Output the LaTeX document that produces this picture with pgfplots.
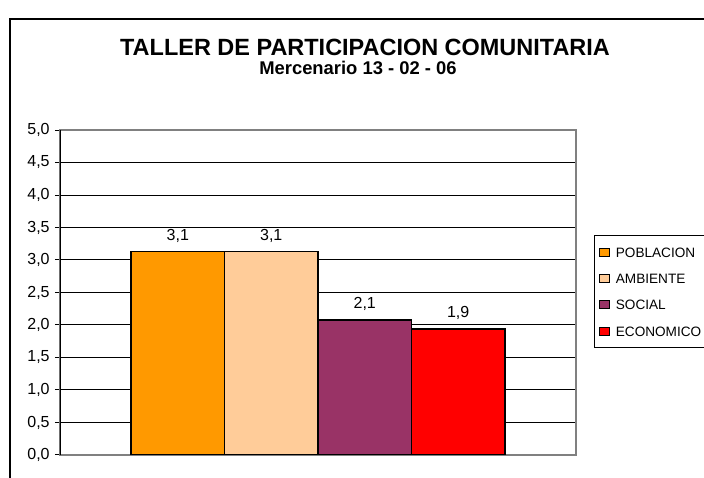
\documentclass[border=0pt]{standalone}
\usepackage{pgfplots}
\pgfplotsset{compat=1.18}
\usepackage{fontspec}
\setmainfont{Liberation Sans}
\definecolor{poblacion}{RGB}{255,153,0}
\definecolor{ambiente}{RGB}{255,204,153}
\definecolor{social}{RGB}{153,51,102}
\definecolor{economico}{RGB}{255,0,0}
\definecolor{plotframe}{RGB}{128,128,128}

\begin{document}
\begin{tikzpicture}
% page = 704 x 478 px, 1px = 0.75pt
\useasboundingbox (0,0) rectangle (528pt,358.5pt);
\clip (0,0) rectangle (528pt,358.5pt);
\draw[line width=1.5pt] (7.5pt,344.25pt) rectangle (560pt,-20pt);

\node[font=\fontsize{17.6}{20}\selectfont\bfseries] at (273.75pt,323.25pt) {TALLER DE PARTICIPACION COMUNITARIA};
\node[font=\fontsize{13.8}{16}\selectfont\bfseries] at (268.5pt,307.5pt) {Mercenario 13 - 02 - 06};

\begin{axis}[
  at={(45pt,17.25pt)}, anchor=south west,
  scale only axis, width=387pt, height=243.75pt,
  /pgf/number format/assume math mode=true,
  ybar=0pt, bar width=70.1pt,
  xmin=-258, xmax=258, xtick=\empty,
  ymin=0, ymax=5, ytick distance=0.5,
  yticklabel={\pgfmathprintnumber[fixed,fixed zerofill,precision=1,use comma]{\tick}},
  yticklabel style={font=\fontsize{12}{14}\selectfont, xshift=-0.5pt},
  ytick pos=left, tick align=outside, major tick length=3.75pt,
  tick style={black, line width=0.75pt},
  ymajorgrids, grid style={black, line width=0.75pt},
  axis line style={plotframe, line width=1.5pt},
  nodes near coords={\pgfmathprintnumber[fixed,fixed zerofill,precision=1,use comma]{\pgfplotspointmeta}},
  nodes near coords style={font=\fontsize{12}{14}\selectfont, anchor=base, inner sep=0pt, yshift=8.4pt},
  every axis plot/.append style={draw=black, line width=1.1pt},
  legend image code/.code={\draw[#1,draw=black,line width=0.75pt] (0pt,-3pt) rectangle (7.5pt,3pt);},
  legend cell align=left,
  legend style={at={(1.0349,0.6769)}, anchor=north west, draw=black, line width=1.1pt,
    font=\fontsize{10.2}{12}\selectfont, inner xsep=3pt, inner ysep=8.6pt,
    row sep=12.25pt, column sep=4.6pt,
    nodes={inner xsep=0pt, inner ysep=0pt, text height=7.5pt, text depth=0pt}},
]
\addplot[fill=poblacion] coordinates {(0,3.13)};
\addplot[fill=ambiente] coordinates {(0,3.13)};
\addplot[fill=social] coordinates {(0,2.08)};
\addplot[fill=economico] coordinates {(0,1.94)};
\legend{POBLACION, AMBIENTE, SOCIAL, ECONOMICO}
\draw[black, line width=1.5pt] (rel axis cs:0,0) -- (rel axis cs:0,1);
\end{axis}
\end{tikzpicture}
\end{document}
